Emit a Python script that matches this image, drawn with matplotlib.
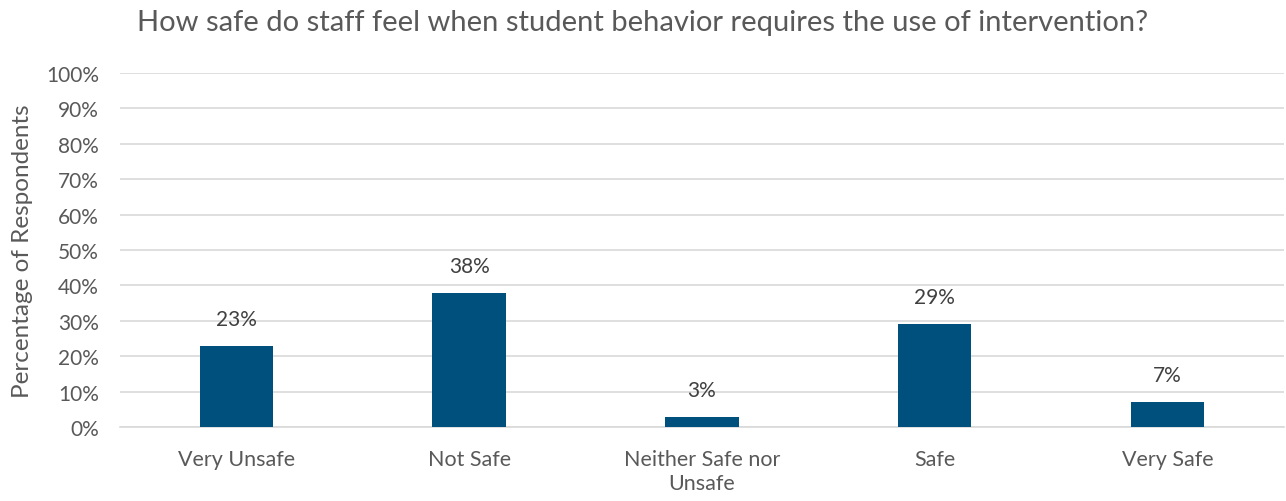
import matplotlib
matplotlib.use("Agg")
import matplotlib.pyplot as plt
import numpy as np

categories = ["Very Unsafe", "Not Safe", "Neither Safe nor\nUnsafe", "Safe", "Very Safe"]
values = [23, 38, 3, 29, 7]
yticks = list(range(0, 101, 10))
title = "How safe do staff feel when student behavior requires the use of intervention?"
ylabel = "Percentage of Respondents"

plt.rcParams['font.family'] = ['Lato', 'DejaVu Sans']
fig = plt.figure(figsize=(12.86, 5.02), dpi=100)
ax = fig.add_axes([0.0933, 0.147, 0.905, 0.706])

x = np.arange(len(categories))
ax.bar(x, values, width=0.315, color="#00507E", zorder=3)
for xi, v in zip(x, values):
    ax.text(xi, v + 4.8, f"{v}%", ha="center", va="bottom", fontsize=15, color="#404040")

ax.set_xlim(-0.5, len(categories) - 0.5)
ax.set_ylim(0, 100)
ax.set_yticks(yticks)
ax.set_yticklabels([f"{t}%" for t in yticks], fontsize=15, color="#595959")
ax.set_xticks(x)
ax.set_xticklabels(categories, fontsize=15.5, color="#595959", linespacing=1.2)
ax.tick_params(axis="y", length=0, pad=15)
ax.tick_params(axis="x", length=0, pad=16)
ax.grid(axis="y", color="#D9D9D9", linewidth=1.2, zorder=0)
for s in ["top", "right", "left"]:
    ax.spines[s].set_visible(False)
ax.spines["bottom"].set_color("#D9D9D9")
ax.spines["bottom"].set_linewidth(1.2)
ax.set_ylabel(ylabel, fontsize=17.5, color="#595959")
ax.yaxis.set_label_coords(-0.0745, 0.5)
fig.text(0.5, 0.955, title, ha="center", va="center", fontsize=21, color="#595959")

fig.savefig("out.png", dpi=100)
